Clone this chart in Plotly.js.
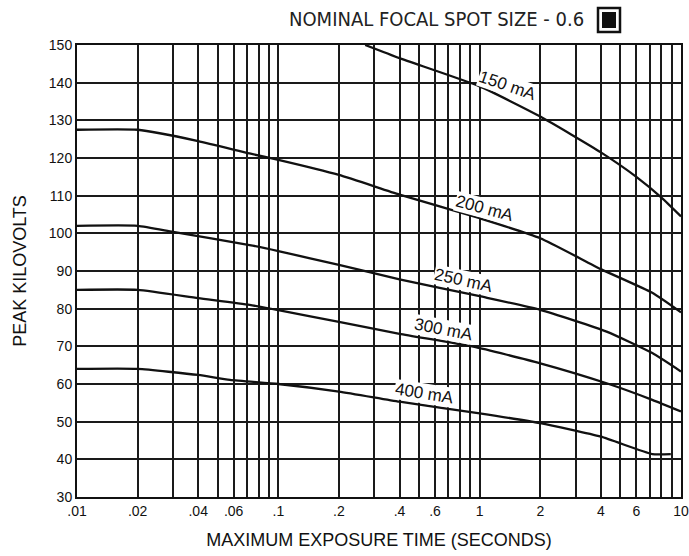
<!DOCTYPE html>
<html>
<head>
<meta charset="utf-8">
<script src="https://cdn.plot.ly/plotly-3.0.1.min.js"></script>
<style>html,body{margin:0;padding:0;background:#fff;}#chart{width:689px;height:556px;}</style>
</head>
<body>
<div id="chart"></div>
<script>
// Exposure time (s) and peak kV for each tube current
const t150 = [0.27, 0.4, 1, 2, 4, 6, 8, 10];
const kv150 = [150, 146.5, 139, 131, 121.5, 115, 109.5, 104.5];

const t200 = [0.01, 0.02, 0.04, 0.072, 0.1, 0.2, 0.4, 1, 2, 4, 7.2, 10];
const kv200 = [127.5, 127.5, 124.5, 121.2, 119.5, 115.5, 110.3, 104, 98.7, 90.5, 84.2, 79];

const t250 = [0.01, 0.02, 0.03, 0.072, 0.1, 0.2, 0.4, 1, 2, 4.27, 7.2, 10];
const kv250 = [102, 102, 100.4, 96.9, 95.3, 91.6, 87.8, 83.3, 79.7, 73.9, 68.2, 63.3];

const t300 = [0.01, 0.02, 0.04, 0.072, 0.1, 0.2, 0.4, 0.93, 2, 4.27, 7.2, 10];
const kv300 = [85, 85, 82.8, 81, 79.6, 76.5, 73.3, 69.9, 65.5, 60.2, 55.8, 52.7];

const t400 = [0.01, 0.02, 0.04, 0.0575, 0.1, 0.2, 0.4, 1, 2, 4, 7.2, 8.9];
const kv400 = [64, 64, 62.4, 61.1, 60, 58, 55.3, 52.2, 49.6, 46, 41.4, 41.4];

const seriesNames = ["150 mA", "200 mA", "250 mA", "300 mA", "400 mA"];
const labelX = [1.37, 1.06, 0.83, 0.66, 0.53];
const labelY = [139.2, 106.5, 87.4, 74.4, 57.6];
const labelAngle = [19, 15, 12.5, 11, 9];

const xTickVals = [0.01,0.02,0.03,0.04,0.05,0.06,0.07,0.08,0.09,
                   0.1,0.2,0.3,0.4,0.5,0.6,0.7,0.8,0.9,
                   1,2,3,4,5,6,7,8,9,10];
const xTickText = [".01",".02","",".04","",".06","","","",
                   ".1",".2","",".4","",".6","","","",
                   "1","2","","4","","6","","","","10"];
const yTickVals = [30,40,50,60,70,80,90,100,110,120,130,140,150];

const xs = [t150, t200, t250, t300, t400];
const ys = [kv150, kv200, kv250, kv300, kv400];

const traces = xs.map((x, i) => ({
  x: x, y: ys[i], type: "scatter", mode: "lines", name: seriesNames[i],
  line: {color: "#111", width: 2.3, shape: "spline", smoothing: 0.5},
  hoverinfo: "x+y+name", showlegend: false
}));

const annotations = seriesNames.map((n, i) => ({
  x: Math.log10(labelX[i]), y: labelY[i], xref: "x", yref: "y",
  text: n, showarrow: false, textangle: labelAngle[i],
  font: {family: "Liberation Sans, Arial, sans-serif", size: 17, color: "#111"},
  bgcolor: "#ffffff", borderpad: 0
}));

annotations.push({
  xref: "paper", yref: "paper", x: (436 - 77) / 604, y: 1 + (45 - 19) / 452,
  xanchor: "center", yanchor: "middle",
  text: "NOMINAL FOCAL SPOT SIZE - 0.6", showarrow: false,
  font: {family: "Liberation Sans Narrow, DejaVu Sans Condensed, Arial Narrow, sans-serif", size: 20, color: "#222"}
});

const layout = {
  width: 689, height: 556,
  margin: {l: 77, r: 8, t: 45, b: 59},
  paper_bgcolor: "#fff", plot_bgcolor: "#fff",
  font: {family: "Liberation Sans, Arial, sans-serif", color: "#111"},
  xaxis: {
    type: "log", range: [-2, 1],
    tickvals: xTickVals, ticktext: xTickText, ticks: "",
    showgrid: true, gridcolor: "#1a1a1a", gridwidth: 2,
    showline: true, linecolor: "#111", linewidth: 2, mirror: true,
    zeroline: false,
    tickfont: {size: 14, color: "#111", family: "Liberation Sans, Arial, sans-serif"},
    title: {text: "MAXIMUM EXPOSURE TIME (SECONDS)", standoff: 16,
            font: {size: 18, color: "#111", family: "Liberation Sans, Arial, sans-serif"}}
  },
  yaxis: {
    range: [30, 150], tickvals: yTickVals, ticks: "",
    showgrid: true, gridcolor: "#1a1a1a", gridwidth: 2,
    showline: true, linecolor: "#111", linewidth: 2, mirror: true,
    zeroline: false,
    tickfont: {size: 14, color: "#111", family: "Liberation Sans, Arial, sans-serif"},
    title: {text: "PEAK KILOVOLTS", standoff: 18,
            font: {size: 18, color: "#111", family: "Liberation Sans, Arial, sans-serif"}}
  },
  annotations: annotations,
  shapes: [
    {type: "rect", xref: "paper", yref: "paper", x0: (598 - 77) / 604, x1: (620 - 77) / 604,
     y0: 1 + (45 - 32) / 452, y1: 1 + (45 - 8) / 452,
     line: {color: "#111", width: 2.5}, fillcolor: "#fff", layer: "above"},
    {type: "rect", xref: "paper", yref: "paper", x0: (602 - 77) / 604, x1: (616 - 77) / 604,
     y0: 1 + (45 - 28) / 452, y1: 1 + (45 - 12) / 452,
     line: {width: 0}, fillcolor: "#111", layer: "above"}
  ]
};

Plotly.newPlot("chart", traces, layout, {displayModeBar: false, staticPlot: true});
</script>
</body>
</html>
